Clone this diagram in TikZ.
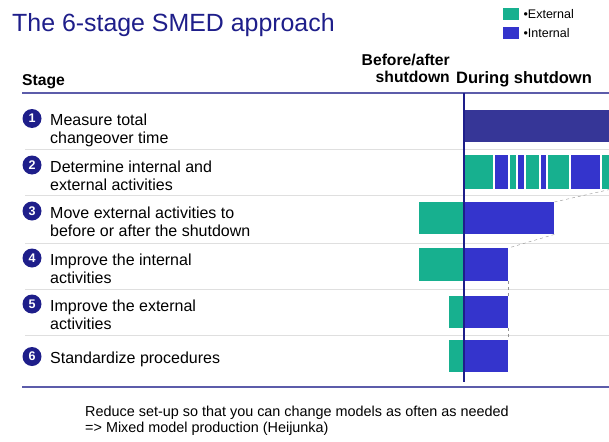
\documentclass[tikz,border=0pt]{standalone}
\usepackage{fontspec}
\setmainfont{Liberation Sans}

\definecolor{extgreen}{HTML}{17B08F}
\definecolor{intblue}{HTML}{3434CC}
\definecolor{measblue}{HTML}{363697}
\definecolor{navy}{HTML}{1E1E8A}
\definecolor{rulecol}{HTML}{5C5CAA}

\begin{document}
\begin{tikzpicture}
        [x=1pt,y=-1pt,
         every node/.style={inner sep=0pt},
         ext/.style={fill=extgreen},
         int/.style={fill=intblue},
         bar/.style={anchor=north west, minimum height=32pt},
         num/.style={circle, fill=navy, text=white, minimum size=19pt,
           font=\bfseries\fontsize{12.5}{12.5}\selectfont},
         stagetxt/.style={anchor=north west, align=left,
           font=\fontsize{16}{18.5}\selectfont},
         head/.style={font=\bfseries\fontsize{15.7}{17}\selectfont},
         rule/.style={draw=rulecol, line width=2pt},
         link/.style={dashed, draw=gray!85}]
        \clip (0,0) rectangle (609,441);
        \fill[white] (0,0) rectangle (609,441);

        % title and key
        \node[anchor=base west, text=navy, font=\fontsize{24.9}{28}\selectfont] (title) at (12,32) {The 6-stage SMED approach};
        \node[ext, minimum width=16pt, minimum height=12pt, anchor=north west] (keyext) at (503,8) {};
        \node[int, minimum width=16pt, minimum height=12pt, anchor=north west] (keyint) at (503,27) {};
        \node[anchor=west, font=\fontsize{12.5}{13}\selectfont] (keyexttxt) at ([xshift=4pt]keyext.east) {•External};
        \node[anchor=west, font=\fontsize{12.5}{13}\selectfont] (keyinttxt) at ([xshift=4pt]keyint.east) {•Internal};

        % column heads
        \node[head, anchor=base west] (stage) at (22,86) {Stage};
        \node[head, anchor=north east, align=right] (before) at (450,53.5) {Before/after\\shutdown};
        \node[head, anchor=base west, font=\bfseries\fontsize{16.5}{17}\selectfont] (during) at (456,84) {During shutdown};

        \draw[rule] (22,93) -- (609,93);
        \draw[rule] (22,387) -- (609,387);
        \foreach \y in {149,195,243,289,335}
        {\draw[gray!25] (25,\y) -- (609,\y);}

        % stages
        \node[num] (n1) at (32,118.5) {1};
        \node[num] (n2) at (32,165) {2};
        \node[num] (n3) at (32,211) {3};
        \node[num] (n4) at (32,258) {4};
        \node[num] (n5) at (32,304) {5};
        \node[num] (n6) at (32,356.5) {6};

        \node[stagetxt] (s1) at (50,113.5) {Measure total\\changeover time};
        \node[stagetxt] (s2) at (50,160.5) {Determine internal and\\external activities};
        \node[stagetxt] (s3) at (50,206.5) {Move external activities to\\before or after the shutdown};
        \node[stagetxt] (s4) at (50,253.5) {Improve the internal\\activities};
        \node[stagetxt] (s5) at (50,299.5) {Improve the external\\activities};
        \node[stagetxt] (s6) at (50,351.5) {Standardize procedures};

        % bars
        \node[bar, fill=measblue, minimum width=160pt] (b1) at (464,110) {};
        \foreach \a/\b/\c in {464/494/ext, 494/509/int, 509/517/ext, 517/525/int,
          525/540/ext, 540/547/int, 547/570/ext, 570/601/int, 601/614/ext}
        {\fill[\c] (\a+0.7,155) rectangle (\b-0.7,188.5);}
        \coordinate (r2) at (614,188.5);

        \node[bar, ext, minimum width=45pt, anchor=north east] (e3) at (464,202) {};
        \node[bar, int, minimum width=90pt] (i3) at (464,202) {};
        \node[bar, ext, minimum width=45pt, minimum height=33pt, anchor=north east] (e4) at (464,248) {};
        \node[bar, int, minimum width=44pt, minimum height=33pt] (i4) at (464,248) {};
        \node[bar, ext, minimum width=15pt, anchor=north east] (e5) at (464,296) {};
        \node[bar, int, minimum width=44pt] (i5) at (464,296) {};
        \node[bar, ext, minimum width=15pt, anchor=north east] (e6) at (464,340) {};
        \node[bar, int, minimum width=44pt] (i6) at (464,340) {};

        \draw[link] (i3.north east) -- (r2);
        \draw[link] (i3.south east) -- (i4.north east);
        \draw[link] (i4.south east) -- (i5.north east);
        \draw[link] (i5.south east) -- (i6.north east);

        \draw[navy, line width=1.5pt] (464,93) -- (464,382);

        \node[anchor=north west, align=left, font=\fontsize{14.4}{16}\selectfont] (note) at (85,406)
          {Reduce set-up so that you can change models as often as needed\\=> Mixed model production (Heijunka)};
      \end{tikzpicture}
\end{document}
